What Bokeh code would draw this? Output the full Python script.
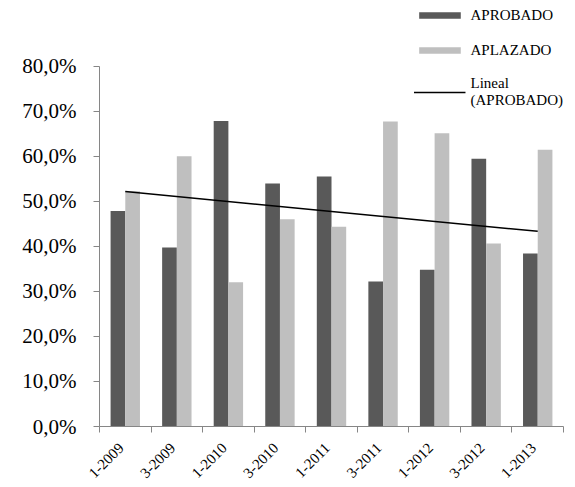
import numpy as np
from bokeh.plotting import figure
from bokeh.models import Range1d, FixedTicker
from bokeh.embed import file_html
from bokeh.resources import INLINE

# ---- data ----
periodos = ["1-2009", "3-2009", "1-2010", "3-2010", "1-2011",
            "3-2011", "1-2012", "3-2012", "1-2013"]
aprobado = [47.8, 39.7, 67.8, 53.9, 55.5, 32.2, 34.8, 59.4, 38.4]
aplazado = [52.2, 60.0, 32.0, 46.0, 44.3, 67.7, 65.1, 40.6, 61.4]
y_ticks = [0, 10, 20, 30, 40, 50, 60, 70, 80]

DARK = "#595959"
LIGHT = "#bfbfbf"
AXIS = "#868686"
FONT = "Liberation Serif"

n = len(periodos)
idx = np.arange(n)
centers = idx + 0.5
bw = 0.285
label_shift = 0.08  # rotated labels end near the category centre

px_per_unit = (426 - 65.5) / 80.0
top_border = 5
y_end = (426 - top_border) / px_per_unit

p = figure(width=575, height=487, output_backend="svg", toolbar_location=None,
           x_range=Range1d(0, n), y_range=Range1d(0, y_end),
           min_border_left=99, min_border_right=12,
           min_border_top=top_border, min_border_bottom=61)
p.outline_line_color = None
p.grid.visible = False
p.background_fill_color = "white"

p.vbar(x=centers - bw / 2, width=bw, top=aprobado, bottom=0,
       fill_color=DARK, line_color=None, legend_label="APROBADO")
p.vbar(x=centers + bw / 2, width=bw, top=aplazado, bottom=0,
       fill_color=LIGHT, line_color=None, legend_label="APLAZADO")

# linear trend of APROBADO (Excel-style, x = 1..n)
xs = idx + 1
slope, intercept = np.polyfit(xs, aprobado, 1)
trend = slope * xs + intercept
p.line(x=[centers[0], centers[-1]], y=[trend[0], trend[-1]],
       line_color="black", line_width=1.5, legend_label="Lineal\n(APROBADO)")

# y axis
ya = p.yaxis[0]
ya.ticker = FixedTicker(ticks=y_ticks)
ya.bounds = (0, 80)
ya.major_label_overrides = {t: f"{t:.1f}".replace(".", ",") + "%" for t in y_ticks}
ya.axis_line_color = AXIS
ya.major_tick_line_color = AXIS
ya.major_tick_in = 0
ya.major_tick_out = 6
ya.minor_tick_line_color = None
ya.major_label_standoff = 17
ya.major_label_text_font = FONT
ya.major_label_text_font_size = "21px"
ya.major_label_text_color = "black"

# x axis
xa = p.xaxis[0]
label_pos = [float(c - label_shift) for c in centers]
xa.ticker = FixedTicker(ticks=label_pos, minor_ticks=list(range(n + 1)))
xa.major_label_overrides = {lp: lab for lp, lab in zip(label_pos, periodos)}
xa.axis_line_color = AXIS
xa.major_tick_line_color = None
xa.major_tick_in = 0
xa.major_tick_out = 0
xa.minor_tick_line_color = AXIS
xa.minor_tick_in = 0
xa.minor_tick_out = 6
xa.major_label_orientation = np.pi / 4
xa.major_label_standoff = 13
xa.major_label_text_font = FONT
xa.major_label_text_font_size = "15px"
xa.major_label_text_color = "black"

# legend
lg = p.legend[0]
lg.location = "top_right"
lg.margin = 0
lg.padding = 0
lg.border_line_color = None
lg.background_fill_alpha = 0
lg.glyph_width = 52
lg.glyph_height = 8
lg.label_height = 20
lg.label_standoff = 5
lg.spacing = 15
lg.label_text_font = FONT
lg.label_text_font_size = "15px"
lg.label_text_color = "black"

open("out.html", "w").write(file_html(p, INLINE))
